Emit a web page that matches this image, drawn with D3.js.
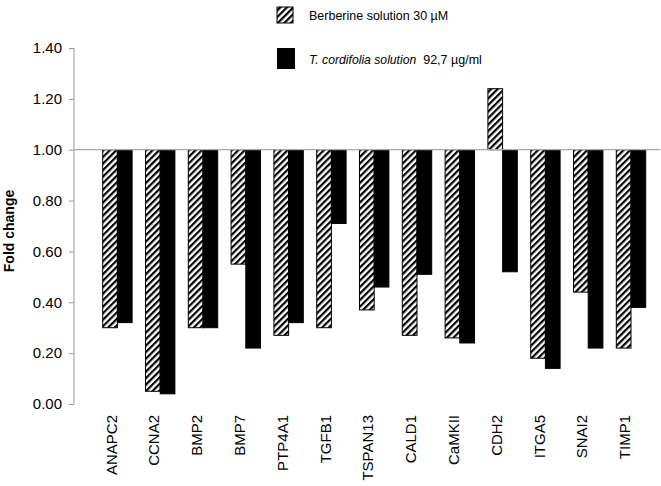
<!DOCTYPE html>
<head>
  <meta charset="utf-8">
  <title>Fold change</title>
  <script src="https://d3js.org/d3.v7.min.js"></script>
  <style type="text/css">
  body { margin: 0; background: #fff; }
  text { font-family: Arial, "Liberation Sans", sans-serif; fill: #000; }
  </style>
</head>
<body>
  <script type="text/javascript">

    // Data
    var genes = ["ANAPC2", "CCNA2", "BMP2", "BMP7", "PTP4A1", "TGFB1", "TSPAN13",
                 "CALD1", "CaMKII", "CDH2", "ITGA5", "SNAI2", "TIMP1"];
    var berberine = [0.30, 0.05, 0.30, 0.55, 0.27, 0.30, 0.37, 0.27, 0.26, 1.24, 0.18, 0.44, 0.22];
    var cordifolia = [0.32, 0.04, 0.30, 0.22, 0.32, 0.71, 0.46, 0.51, 0.24, 0.52, 0.14, 0.22, 0.38];
    var yTicks = [0, 0.2, 0.4, 0.6, 0.8, 1.0, 1.2, 1.4];
    var seriesNames = ["berberine", "cordifolia"];

    var rows = genes.map(function(g, i) {
      return {gene: g, berberine: berberine[i], cordifolia: cordifolia[i]};
    });

    var width = 661, height = 486;

    var svg = d3.select("body").append("svg")
      .attr("width", width)
      .attr("height", height);

    // Hatch pattern
    var defs = svg.append("defs");
    defs.append("pattern")
      .attr("id", "hatch")
      .attr("patternUnits", "userSpaceOnUse")
      .attr("width", 4.6)
      .attr("height", 4.6)
      .attr("patternTransform", "rotate(45)")
      .append("rect")
      .attr("x", 0).attr("y", 0)
      .attr("width", 2.2).attr("height", 4.6)
      .attr("fill", "#000");

    // Scales
    var x0 = d3.scaleBand().domain(genes).range([95.9, 652.3]).padding(0);
    var x1 = d3.scaleBand().domain(seriesNames).range([6.8, 36.2]).padding(0);
    var y = d3.scaleLinear().domain([0, 1.4]).range([404, 48]);

    // Y axis
    var yAxis = svg.append("g")
      .attr("transform", "translate(74,0)")
      .call(d3.axisLeft(y).tickValues(yTicks).tickFormat(d3.format(".2f")).tickSize(5).tickPadding(7));
    yAxis.selectAll("path, line").attr("stroke", "#9a9a9a");
    yAxis.select(".domain").attr("d", "M0," + y(1.4) + "V" + y(0));
    yAxis.selectAll("text")
      .style("font-size", "15px")
      .attr("fill", "#000");

    // Y label
    svg.append("text")
      .attr("transform", "translate(14,231) rotate(-90)")
      .attr("text-anchor", "middle")
      .style("font-size", "14px")
      .style("font-weight", "bold")
      .text("Fold change");

    // Bars, drawn from the 1.00 line
    var groups = svg.selectAll(".grp")
      .data(rows)
      .enter().append("g")
      .attr("class", "grp")
      .attr("transform", function(d) { return "translate(" + x0(d.gene) + ",0)"; });

    groups.selectAll("rect")
      .data(function(d) { return seriesNames.map(function(k) { return {key: k, value: d[k]}; }); })
      .enter().append("rect")
      .attr("x", function(d) { return x1(d.key); })
      .attr("width", x1.bandwidth())
      .attr("y", function(d) { return Math.min(y(d.value), y(1)); })
      .attr("height", function(d) { return Math.abs(y(d.value) - y(1)); })
      .attr("fill", function(d) { return d.key === "berberine" ? "url(#hatch)" : "#000"; })
      .attr("stroke", "#000")
      .attr("stroke-width", 1);

    // Reference line at 1.00
    svg.append("line")
      .attr("x1", 74).attr("x2", 660)
      .attr("y1", y(1)).attr("y2", y(1))
      .attr("stroke", "#a8a8a8")
      .attr("stroke-width", 1.2);

    // Category labels
    svg.selectAll(".glabel")
      .data(genes)
      .enter().append("text")
      .attr("class", "glabel")
      .attr("transform", function(d) {
        return "translate(" + (x0(d) + x0.bandwidth() / 2 - 6) + ",415) rotate(-90)";
      })
      .attr("text-anchor", "end")
      .attr("dy", "0.35em")
      .style("font-size", "15px")
      .text(function(d) { return d; });

    // Legend
    svg.append("rect")
      .attr("x", 277).attr("y", 7).attr("width", 16).attr("height", 16)
      .attr("fill", "url(#hatch)").attr("stroke", "#000").attr("stroke-width", 1);
    svg.append("text")
      .attr("x", 309).attr("y", 20)
      .style("font-size", "12.5px")
      .text("Berberine solution 30 \u00b5M");

    svg.append("rect")
      .attr("x", 277).attr("y", 48).attr("width", 18).attr("height", 21)
      .attr("fill", "#000");
    var t2 = svg.append("text")
      .attr("x", 309).attr("y", 64)
      .style("font-size", "12.5px");
    t2.append("tspan").style("font-style", "italic").style("font-size", "12.2px").text("T. cordifolia solution");
    t2.append("tspan").text("\u00a0 92,7 \u00b5g/ml");

  </script>
</body>
</html>
